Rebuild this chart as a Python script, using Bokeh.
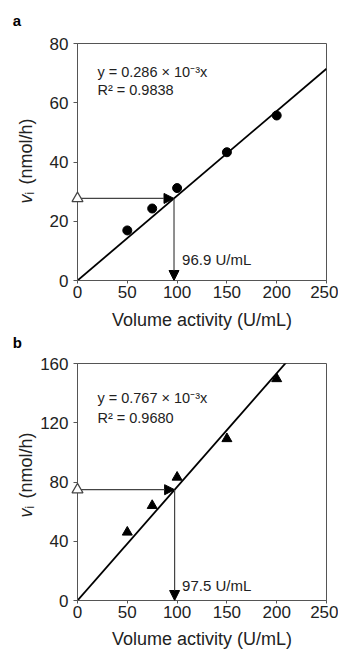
import math
from bokeh.plotting import figure
from bokeh.models import Label, Arrow, NormalHead, Range1d, FixedTicker
from bokeh.layouts import column
from bokeh.embed import file_html
from bokeh.resources import INLINE
from bokeh.core.properties import value

# ---------------- data ----------------
activity = [50, 75, 100, 150, 200]          # U/mL
rate_a = [16.9, 24.3, 31.2, 43.3, 55.7]      # nmol/h, panel a
rate_b = [46.1, 64.1, 83.2, 109.2, 149.7]    # nmol/h, panel b
slope_a = 0.286
slope_b = 0.767
r2_a = "0.9838"
r2_b = "0.9680"
unknown_rate_a = 27.7
unknown_act_a = 96.9
unknown_rate_b = 74.8
unknown_act_b = 97.5
fit_x = [0, 250]
x_ticks = [0, 50, 100, 150, 200, 250]
y_ticks_a = [0, 20, 40, 60, 80]
y_ticks_b = [0, 40, 80, 120, 160]

FONT = "Liberation Sans"
TXT = "#222222"
AX = "#555555"


def outer_text(p, x, y, text, size, style="normal", align="left",
               baseline="alphabetic", angle=0.0, xo=0, yo=0, color=TXT):
    p.text(x=[x], y=[y], text=[text], text_font=value(FONT),
           text_font_size=value(size), text_font_style=style,
           text_align=align, text_baseline=baseline, angle=angle,
           x_offset=xo, y_offset=yo, text_color=color, level="overlay")


def panel(letter, rates, marker, msize, slope, r2, unk_rate, unk_act, ymax,
          yticks, height, btop, bbot, letter_y, eq_y1, eq_y2, val_y, xlab_y,
          ylab_y0):
    p = figure(width=338, height=height, x_range=Range1d(0, 250),
               y_range=Range1d(0, ymax), output_backend="svg",
               toolbar_location=None, min_border_left=77, min_border_right=12,
               min_border_top=btop, min_border_bottom=bbot)
    p.xgrid.visible = False
    p.ygrid.visible = False
    p.outline_line_color = AX
    p.outline_line_width = 1
    p.background_fill_color = "white"
    p.border_fill_color = "white"

    p.xaxis.ticker = FixedTicker(ticks=x_ticks)
    p.yaxis.ticker = FixedTicker(ticks=yticks)
    for ax in (p.xaxis, p.yaxis):
        ax.axis_line_color = AX
        ax.major_tick_line_color = AX
        ax.minor_tick_line_color = None
        ax.major_tick_in = 0
        ax.major_label_text_font = FONT
        ax.major_label_text_font_size = "17px"
        ax.major_label_text_color = TXT
    p.xaxis.major_tick_out = 3
    p.xaxis.major_label_standoff = 2
    p.yaxis.major_tick_out = 4
    p.yaxis.major_label_standoff = 5

    # regression line
    p.line(fit_x, [slope * x for x in fit_x], line_color="black", line_width=1.8)
    # data points
    p.scatter(activity, rates, marker=marker, size=msize, color="black")

    # arrows for unknown sample
    p.add_layout(Arrow(end=NormalHead(size=10, fill_color="black", line_color="black"),
                       x_start=0, y_start=unk_rate, x_end=unk_act, y_end=unk_rate,
                       line_color="#444444", line_width=1.2))
    p.add_layout(Arrow(end=NormalHead(size=10, fill_color="black", line_color="black"),
                       x_start=unk_act, y_start=unk_rate, x_end=unk_act, y_end=0,
                       line_color="#444444", line_width=1.2))
    p.scatter([0], [unk_rate], marker="triangle", size=11, fill_color="white",
              line_color="#444444", line_width=1.2, level="overlay")

    # texts inside the frame
    p.add_layout(Label(x=20, y=eq_y1, text=f"y = {slope:.3f} \u00d7 10\u207b\u00b3x",
                       text_font=FONT, text_font_size="14.5px", text_color=TXT,
                       text_baseline="middle"))
    p.add_layout(Label(x=20, y=eq_y2, text=f"R\u00b2 = {r2}",
                       text_font=FONT, text_font_size="14.5px", text_color=TXT,
                       text_baseline="middle"))
    p.add_layout(Label(x=105, y=val_y, text=f"{unk_act} U/mL",
                       text_font=FONT, text_font_size="15px", text_color=TXT,
                       text_baseline="middle"))
    # texts outside the frame (glyphs on the overlay level)
    outer_text(p, -65, letter_y, letter, "15px", style="bold", color="black")
    outer_text(p, 125, xlab_y, "Volume activity (U/mL)", "18px",
               align="center", baseline="middle")
    xb = -52.0
    rot = math.pi / 2
    outer_text(p, xb, ylab_y0, "v", "18px", style="italic", angle=rot)
    outer_text(p, xb, ylab_y0, "i", "12px", angle=rot, xo=4, yo=-9)
    outer_text(p, xb, ylab_y0, "(nmol/h)", "18px", angle=rot, yo=-19)
    return p


pa = panel("a", rate_a, "circle", 9, slope_a, r2_a, unknown_rate_a, unknown_act_a,
           80, y_ticks_a, 330, 43, 50, 87.8, 70.5, 64.4, 7.1, -13.5, 26.0)
pb = panel("b", rate_b, "triangle", 10, slope_b, r2_b, unknown_rate_b, unknown_act_b,
           160, y_ticks_b, 320, 33, 50, 174.2, 136.4, 123.5, 10.1, -25.7, 56.0)

layout = column(pa, pb, spacing=0)
open("out.html", "w").write(file_html(layout, INLINE))
